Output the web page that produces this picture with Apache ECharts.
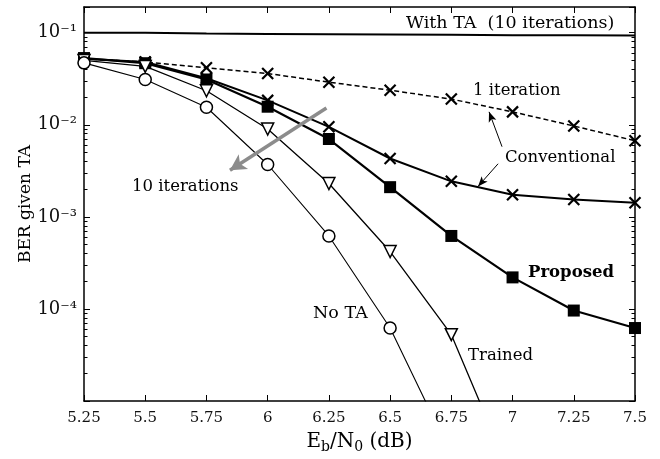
<!DOCTYPE html>
<html>
<head>
    <meta charset="utf-8">
    <title>BER given TA</title>
    <script src="https://cdn.jsdelivr.net/npm/echarts@6/dist/echarts.min.js"></script>
    <style>
        html, body { margin: 0; padding: 0; background: #fff; }
        #main { width: 660px; height: 459px; }
    </style>
</head>
<body>
    <div id="main"></div>
    <script type="text/javascript">
        // x 轴: Eb/N0 (dB)
        var ebn0 = [5.25, 5.5, 5.75, 6, 6.25, 6.5, 6.75, 7, 7.25, 7.5];
        // 各曲线 BER
        var withTA = [0.100, 0.0995, 0.098, 0.097, 0.0962, 0.0955, 0.0948, 0.094, 0.0935, 0.093];
        var conv1 = [0.052, 0.048, 0.0416, 0.036, 0.029, 0.0237, 0.019, 0.0138, 0.0097, 0.0067];
        var conv10 = [0.052, 0.048, 0.032, 0.0184, 0.0095, 0.0043, 0.00243, 0.00174, 0.00154, 0.00142];
        var proposed = [0.053, 0.0466, 0.031, 0.0157, 0.0070, 0.0021, 0.00062, 0.00022, 0.000096, 0.000062];
        var trained = [0.050, 0.043, 0.0234, 0.009, 0.0023, 0.00042, 0.0000525, 0.0000014];
        var noTA = [0.047, 0.031, 0.0155, 0.0037, 0.00062, 0.000062, 0.0000026];
        // y 轴范围与刻度
        var yMin = 1e-5;
        var yMax = 0.19;
        var decades = [-5, -4, -3, -2, -1];

        var serif = 'DejaVu Serif';
        var supDigits = { '-': '\u207B', '0': '\u2070', '1': '\u00B9', '2': '\u00B2', '3': '\u00B3', '4': '\u2074', '5': '\u2075' };

        // 次刻度 2..9 (log10 空间)
        var minorTicks = [];
        decades.forEach(function(d) {
            for (var k = 2; k <= 9; k++) {
                var v = Math.log10(k) + d;
                if (v < Math.log10(yMax)) minorTicks.push(v);
            }
        });

        function toData(ys) {
            return ys.map(function(v, i) {
                var item = { value: [ebn0[i], v] };
                if (v < yMin) item.symbol = 'none';
                return item;
            });
        }

        function sup(n) {
            return String(n).split('').map(function(c) { return supDigits[c]; }).join('');
        }

        function axisLine() {
            return { show: true, lineStyle: { color: '#000', width: 1.5 } };
        }

        function majorTick() {
            return { show: true, inside: true, length: 6, lineStyle: { color: '#000', width: 1 } };
        }

        function minorAxis(pos) {
            return {
                type: 'value',
                min: -5,
                max: Math.log10(yMax),
                position: pos,
                axisLine: { show: true, lineStyle: { color: 'rgba(0,0,0,0)' } },
                axisTick: { show: true, inside: true, length: 3.5, customValues: minorTicks, lineStyle: { color: '#000', width: 1 } },
                axisLabel: { show: false },
                splitLine: { show: false }
            };
        }

        var crossPath = 'path://M0,0L10,10M10,0L0,10';

        var myChart = echarts.init(document.getElementById('main'));

        var option = {
            backgroundColor: '#fff',
            animation: false,
            grid: { left: 84, right: 25, top: 7, bottom: 57, containLabel: false },
            xAxis: [{
                type: 'value',
                min: 5.25,
                max: 7.5,
                interval: 0.25,
                position: 'bottom',
                name: '{n|E}{sub|b}{n|/N}{sub|0}{n| (dB)}',
                nameLocation: 'middle',
                nameGap: 29,
                nameTextStyle: {
                    rich: {
                        n: { fontFamily: serif, fontSize: 20, color: '#000', lineHeight: 24 },
                        sub: { fontFamily: serif, fontSize: 14, color: '#000', verticalAlign: 'bottom', lineHeight: 14 }
                    }
                },
                axisLine: axisLine(),
                axisTick: majorTick(),
                axisLabel: { fontFamily: serif, fontSize: 15, color: '#111', margin: 10 },
                splitLine: { show: false }
            }, {
                type: 'value',
                min: 5.25,
                max: 7.5,
                interval: 0.25,
                position: 'top',
                axisLine: axisLine(),
                axisTick: majorTick(),
                axisLabel: { show: false },
                splitLine: { show: false }
            }],
            yAxis: [{
                type: 'log',
                min: yMin,
                max: yMax,
                position: 'left',
                name: 'BER given TA',
                nameLocation: 'middle',
                nameGap: 50,
                nameMoveOverlap: false,
                nameTextStyle: { fontFamily: serif, fontSize: 17, color: '#000' },
                axisLine: axisLine(),
                axisTick: majorTick(),
                axisLabel: {
                    margin: 7,
                    fontFamily: serif,
                    fontSize: 18,
                    color: '#111',
                    formatter: function(v) {
                        var e = Math.round(Math.log10(v));
                        if (Math.abs(Math.log10(v) - e) > 1e-6 || e <= -5) return '';
                        return '10' + sup(e);
                    }
                },
                splitLine: { show: false }
            }, {
                type: 'log',
                min: yMin,
                max: yMax,
                position: 'right',
                axisLine: axisLine(),
                axisTick: majorTick(),
                axisLabel: { show: false },
                splitLine: { show: false }
            }, minorAxis('left'), minorAxis('right')],
            graphic: [
                { type: 'text', x: 406, y: 23, style: { text: 'With TA  (10 iterations)', fontFamily: serif, fontSize: 17.5, fill: '#000', verticalAlign: 'middle' } },
                { type: 'text', x: 473, y: 91, style: { text: '1 iteration', fontFamily: serif, fontSize: 16.5, fill: '#000', verticalAlign: 'middle' } },
                { type: 'text', x: 505, y: 158, style: { text: 'Conventional', fontFamily: serif, fontSize: 16.5, fill: '#000', verticalAlign: 'middle' } },
                { type: 'text', x: 132, y: 187, style: { text: '10 iterations', fontFamily: serif, fontSize: 16.5, fill: '#000', verticalAlign: 'middle' } },
                { type: 'text', x: 528, y: 273, style: { text: 'Proposed', fontFamily: serif, fontSize: 16.5, fontWeight: 'bold', fill: '#000', verticalAlign: 'middle' } },
                { type: 'text', x: 313, y: 313, style: { text: 'No TA', fontFamily: serif, fontSize: 17.5, fill: '#000', verticalAlign: 'middle' } },
                { type: 'text', x: 468, y: 356, style: { text: 'Trained', fontFamily: serif, fontSize: 16.5, fill: '#000', verticalAlign: 'middle' } }
            ],
            series: [{
                name: 'With TA',
                type: 'line',
                symbol: 'none',
                lineStyle: { color: '#000', width: 2 },
                data: toData(withTA)
            }, {
                name: 'Conventional 1 iteration',
                type: 'line',
                symbol: crossPath,
                symbolSize: 11,
                itemStyle: { color: '#000', borderColor: '#000', borderWidth: 2.2 },
                lineStyle: { color: '#000', width: 1.5, type: [5, 3] },
                data: toData(conv1),
                markLine: {
                    silent: true,
                    symbol: ['none', 'arrow'],
                    symbolSize: [6, 10],
                    label: { show: false },
                    lineStyle: { color: '#000', width: 1, type: 'solid' },
                    data: [
                        [{ coord: [6.957, 0.00578] }, { coord: [6.904, 0.0138] }],
                        [{ coord: [6.941, 0.00377] }, { coord: [6.859, 0.00214] }]
                    ]
                }
            }, {
                name: 'Conventional 10 iterations',
                type: 'line',
                symbol: crossPath,
                symbolSize: 11,
                itemStyle: { color: '#000', borderColor: '#000', borderWidth: 2.2 },
                lineStyle: { color: '#000', width: 2 },
                data: toData(conv10)
            }, {
                name: 'Proposed',
                type: 'line',
                symbol: 'rect',
                symbolSize: 12,
                itemStyle: { color: '#000' },
                lineStyle: { color: '#000', width: 2.2 },
                data: toData(proposed),
                markLine: {
                    silent: true,
                    symbol: ['none', 'arrow'],
                    symbolSize: [13, 16],
                    label: { show: false },
                    lineStyle: { color: '#8c8c8c', width: 3.5, type: 'solid' },
                    data: [
                        [{ coord: [6.24, 0.0152] }, { coord: [5.846, 0.0032] }]
                    ]
                }
            }, {
                name: 'Trained',
                type: 'line',
                symbol: 'triangle',
                symbolRotate: 180,
                symbolSize: 12,
                itemStyle: { color: '#fff', borderColor: '#000', borderWidth: 1.5 },
                lineStyle: { color: '#000', width: 1.3 },
                data: toData(trained)
            }, {
                name: 'No TA',
                type: 'line',
                symbol: 'circle',
                symbolSize: 12,
                itemStyle: { color: '#fff', borderColor: '#000', borderWidth: 1.5 },
                lineStyle: { color: '#000', width: 1.1 },
                data: toData(noTA)
            }]
        };

        myChart.setOption(option);
        window.onresize = myChart.resize;
    </script>
</body>
</html>
